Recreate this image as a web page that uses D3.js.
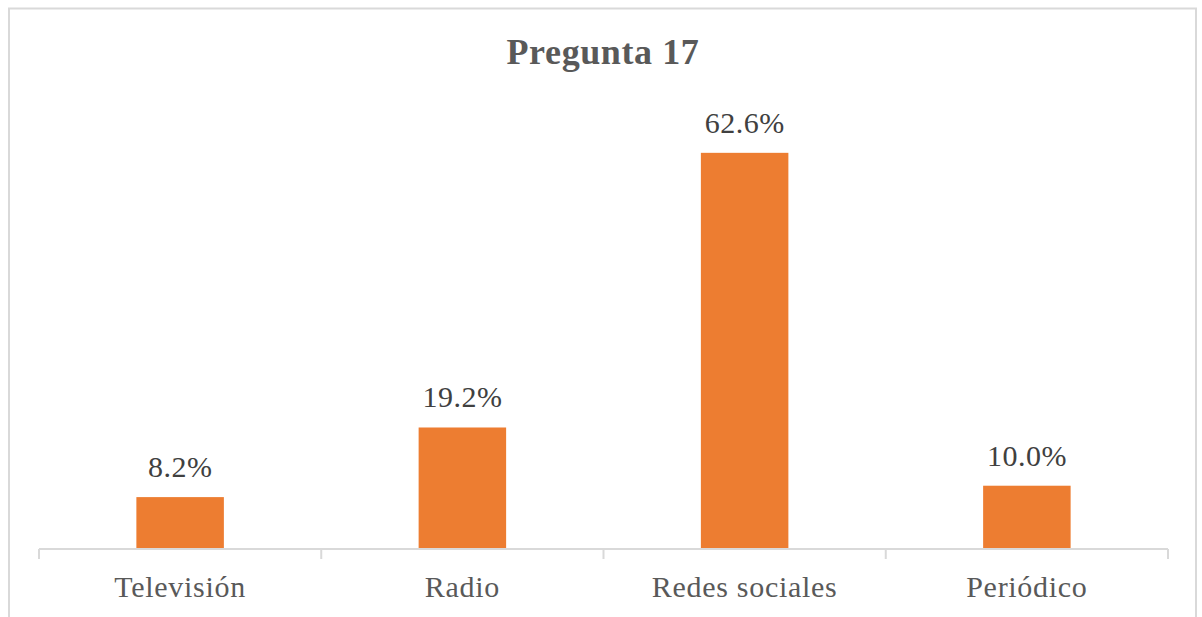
<!DOCTYPE html>
<html>
<head>
<meta charset="utf-8">
<script src="https://cdn.jsdelivr.net/npm/d3@7"></script>
<style>
  body { margin: 0; background: #fff; }
  svg { display: block; }
  svg text { font-family: "Liberation Serif", "Times New Roman", "DejaVu Serif", serif; }
</style>
</head>
<body>
<div id="chart"></div>
<script>
// chart data
var categories = ["Televisión", "Radio", "Redes sociales", "Periódico"];
var values = [8.2, 19.2, 62.6, 10.0];
var title = "Pregunta 17";

var W = 1202, H = 617;
var margin = { top: 106, right: 34, bottom: 68, left: 39 };
var width = W - margin.left - margin.right,
    height = H - margin.top - margin.bottom;

var svg = d3.select("#chart").append("svg")
    .attr("width", W)
    .attr("height", H);

// outer chart border (bottom runs off the picture)
svg.append("rect")
    .attr("x", 9).attr("y", 8.5)
    .attr("width", 1187).attr("height", 640)
    .attr("fill", "#fff")
    .attr("stroke", "#d9d9d9")
    .attr("stroke-width", 2);

svg.append("text")
    .attr("x", W / 2 + 2)
    .attr("y", 64)
    .attr("text-anchor", "middle")
    .attr("font-weight", "bold")
    .attr("font-size", 36)
    .attr("letter-spacing", 0.6)
    .attr("fill", "#595959")
    .text(title);

var g = svg.append("g")
    .attr("transform", "translate(" + margin.left + "," + margin.top + ")");

var x = d3.scaleBand().domain(categories).range([0, width]).paddingInner(0.69).paddingOuter(0.345);
var y = d3.scaleLinear().domain([0, 70]).range([height, 0]);

var xb = d3.scaleBand().domain(categories).range([0, width]);

g.selectAll(".bar")
    .data(values)
    .enter().append("rect")
    .attr("class", "bar")
    .attr("x", function (d, i) { return x(categories[i]); })
    .attr("y", function (d) { return y(d); })
    .attr("width", x.bandwidth())
    .attr("height", function (d) { return height - y(d); })
    .attr("fill", "#ed7d31");

g.selectAll(".lbl")
    .data(values)
    .enter().append("text")
    .attr("class", "lbl")
    .attr("x", function (d, i) { return x(categories[i]) + x.bandwidth() / 2; })
    .attr("y", function (d) { return y(d) - 20; })
    .attr("text-anchor", "middle")
    .attr("font-size", 30)
    .attr("letter-spacing", 0.5)
    .attr("fill", "#404040")
    .text(function (d) { return d.toFixed(1) + "%"; });

// axis line + boundary ticks
var ax = g.append("g").attr("transform", "translate(0," + height + ")");
ax.append("line")
    .attr("x1", 0).attr("x2", width)
    .attr("y1", 0).attr("y2", 0)
    .attr("stroke", "#d9d9d9").attr("stroke-width", 2);
var bounds = categories.map(function (c) { return xb(c); }).concat([width]);
ax.selectAll(".tk")
    .data(bounds)
    .enter().append("line")
    .attr("x1", function (d) { return d; }).attr("x2", function (d) { return d; })
    .attr("y1", 0).attr("y2", 10)
    .attr("stroke", "#d9d9d9").attr("stroke-width", 2);

ax.selectAll(".cat")
    .data(categories)
    .enter().append("text")
    .attr("x", function (d) { return xb(d) + xb.bandwidth() / 2; })
    .attr("y", 48)
    .attr("text-anchor", "middle")
    .attr("font-size", 30)
    .attr("letter-spacing", 0.7)
    .attr("fill", "#595959")
    .text(function (d) { return d; });
</script>
</body>
</html>
